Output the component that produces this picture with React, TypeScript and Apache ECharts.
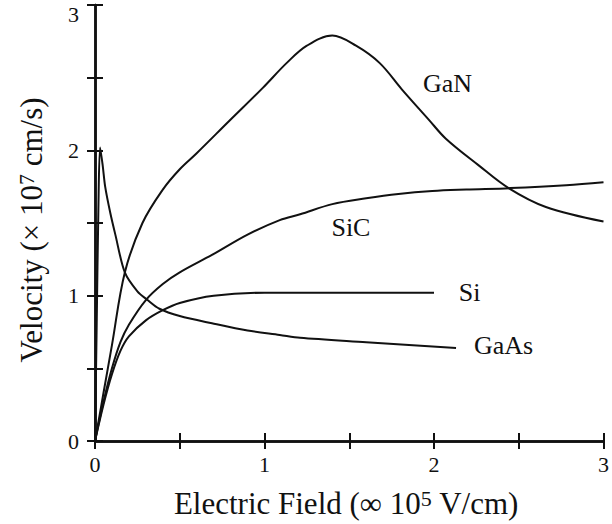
import React, { useEffect, useRef } from "react";
import * as echarts from "echarts";

const xTicks = [0, 0.5, 1, 1.5, 2, 2.5, 3];
const yTicks = [0, 0.5, 1, 1.5, 2, 2.5, 3];

const ganData = [
  [0, 0], [0.02, 0.13], [0.05, 0.33], [0.1, 0.66], [0.176, 1.16], [0.28, 1.5],
  [0.4, 1.73], [0.5, 1.87], [0.6, 1.98], [0.79, 2.2], [0.99, 2.43], [1.13, 2.6],
  [1.25, 2.72], [1.4, 2.79], [1.54, 2.72], [1.68, 2.6], [1.81, 2.42], [1.97, 2.21],
  [2.07, 2.08], [2.26, 1.9], [2.44, 1.74], [2.66, 1.61], [3, 1.51],
];
const sicData = [
  [0, 0], [0.05, 0.27], [0.1, 0.5], [0.15, 0.68], [0.2, 0.8], [0.3, 0.97],
  [0.4, 1.08], [0.5, 1.16], [0.69, 1.28], [0.9, 1.42], [1.09, 1.52], [1.21, 1.56],
  [1.4, 1.63], [1.6, 1.67], [1.79, 1.7], [1.99, 1.72], [2.19, 1.73], [2.45, 1.74],
  [2.78, 1.76], [3, 1.78],
];
const siData = [
  [0, 0], [0.05, 0.25], [0.1, 0.46], [0.15, 0.62], [0.2, 0.72], [0.3, 0.83],
  [0.4, 0.9], [0.5, 0.95], [0.7, 1.0], [1, 1.02], [1.5, 1.02], [2, 1.02],
];
const gaasData = [
  [0, 0], [0.01, 0.8], [0.02, 1.6], [0.03, 2.02], [0.045, 1.9], [0.06, 1.75],
  [0.09, 1.57], [0.12, 1.42], [0.176, 1.16], [0.25, 1.03], [0.31, 0.97],
  [0.38, 0.91], [0.5, 0.86], [0.69, 0.81], [0.9, 0.76], [1.09, 0.73],
  [1.21, 0.71], [1.6, 0.68], [2.13, 0.64],
];

const seriesNames = ["GaN", "SiC", "Si", "GaAs"];
const seriesData = [ganData, sicData, siData, gaasData];
const labelPos: [number, number][] = [
  [2.08, 2.46],
  [1.51, 1.47],
  [2.21, 1.02],
  [2.41, 0.66],
];

const FONT = "Liberation Serif, Times New Roman, serif";
const INK = "#111";

export default function App() {
  const ref = useRef<HTMLDivElement>(null);
  useEffect(() => {
    document.body.style.margin = "0";
    const chart = echarts.init(ref.current!, null, { renderer: "svg" });
    const fmt = (v: number) => (Number.isInteger(v) ? String(v) : "");
    const common = {
      type: "value" as const,
      min: 0,
      max: 3,
      interval: 0.5,
      axisLine: { lineStyle: { color: INK, width: 2.5 } },
      axisTick: { inside: true, length: 8, lineStyle: { color: INK, width: 2 } },
      splitLine: { show: false },
    };
    const supStyle = { fontSize: 22, fontFamily: FONT, color: INK, verticalAlign: "top", padding: [0, 0, 10, 0] };
    chart.setOption({
      animation: false,
      grid: { left: 95, right: 7, top: 5, bottom: 83 },
      xAxis: [
        {
          ...common,
          position: "bottom",
          axisLabel: { formatter: fmt, color: INK, fontFamily: FONT, fontSize: 22, margin: 12 },
          name: "Electric Field (∞ 10{sup|5} V/cm)",
          nameLocation: "middle",
          nameGap: 46,
          nameTextStyle: {
            color: INK,
            fontFamily: FONT,
            fontSize: 31,
            padding: [0, 6, 0, 0],
            rich: { sup: supStyle },
          },
        },
        {
          ...common,
          position: "top",
          axisLabel: { show: false },
        },
      ],
      yAxis: [
        {
          ...common,
          position: "left",
          axisLabel: {
            formatter: (v: number) => (v === 3 ? "{top|3}" : fmt(v)),
            color: INK,
            fontFamily: FONT,
            fontSize: 22,
            margin: 16,
            rich: { top: { fontFamily: FONT, fontSize: 22, color: INK, padding: [18, 0, 0, 0] } },
          },
          name: "Velocity (× 10{sup|7} cm/s)",
          nameLocation: "middle",
          nameGap: 48,
          nameTextStyle: {
            color: INK,
            fontFamily: FONT,
            fontSize: 31,
            padding: [0, 14, 0, 0],
            rich: { sup: supStyle },
          },
        },
        {
          ...common,
          position: "right",
          axisLabel: { show: false },
        },
      ],
      series: seriesNames.map((name, i) => ({
        name,
        type: "line",
        data: seriesData[i],
        showSymbol: false,
        smooth: name === "GaAs" ? 0.3 : 0.35,
        lineStyle: { color: INK, width: 2 },
        markPoint: {
          symbol: "circle",
          symbolSize: 0,
          data: [{ coord: labelPos[i], value: name }],
          label: { show: true, formatter: name, color: INK, fontFamily: FONT, fontSize: 26, position: "inside" },
        },
      })),
    });
    return () => chart.dispose();
  }, []);
  return <div ref={ref} style={{ width: 612, height: 524 }} />;
}
